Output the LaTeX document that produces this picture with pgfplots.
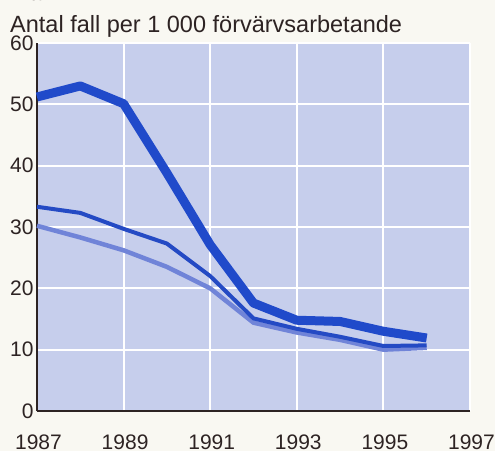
\documentclass[border=0pt]{standalone}
\usepackage{pgfplots}
\pgfplotsset{compat=1.18}
\usepackage{fontspec}
\setmainfont{Liberation Sans}
\definecolor{pagebg}{RGB}{249,248,242}
\definecolor{plotbg}{RGB}{198,206,236}
\definecolor{thickc}{RGB}{32,74,202}
\definecolor{midc}{RGB}{36,74,196}
\definecolor{lightc}{RGB}{112,132,216}
\definecolor{axc}{RGB}{45,35,35}
\begin{document}
\begin{tikzpicture}
\fill[pagebg] (-37pt,-40pt) rectangle (458pt,411pt);
\useasboundingbox (-37pt,-40pt) rectangle (458pt,411pt);
\node[anchor=base west, inner sep=0pt, text=axc] at (-27pt,410pt) {\fontsize{23}{27}\selectfont\bfseries Man};
\node[anchor=base west, inner sep=0pt, text=axc] at (-27pt,379pt) {\fontsize{23.5}{27}\selectfont Antal fall per 1 000 förvärvsarbetande};
\begin{axis}[
  at={(0pt,0pt)}, anchor=south west,
  scale only axis, width=433pt, height=368pt,
  xmin=1987, xmax=1997, ymin=0, ymax=60,
  xtick={1987,1989,...,1997}, ytick={0,10,...,60},
  axis x line*=bottom, axis y line*=left,
  axis line style={draw=axc, line width=2.4pt, -},
  axis background/.style={fill=plotbg},
  grid=major, major grid style={white, line width=1.8pt},
  major tick length=0pt,
  /pgf/number format/1000 sep={},
  /pgf/number format/assume math mode=true,
  ticklabel style={font=\fontsize{21}{24}\selectfont, text=axc},
  xticklabel style={yshift=-20pt, xshift=1.5pt},
  yticklabel style={xshift=0pt},
  clip=false,
]
\addplot[lightc, line width=4.5pt, line join=round] coordinates {
(1987,30.2) (1988,28.3) (1989,26.2) (1990,23.5) (1991,20.0) (1992,14.4) (1993,12.8) (1994,11.6) (1995,10.0) (1996,10.3)};
\addplot[midc, line width=4pt, line join=round] coordinates {
(1987,33.3) (1988,32.3) (1989,29.7) (1990,27.3) (1991,22.0) (1992,15.1) (1993,13.4) (1994,12.1) (1995,10.6) (1996,10.7)};
\addplot[thickc, line width=9pt, line join=round] coordinates {
(1987,51.2) (1988,53.0) (1989,50.1) (1990,38.8) (1991,27.1) (1992,17.6) (1993,14.8) (1994,14.6) (1995,13.0) (1996,11.9)};
\end{axis}
\end{tikzpicture}
\end{document}
